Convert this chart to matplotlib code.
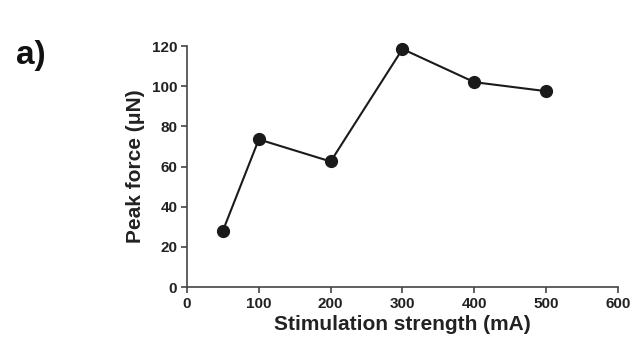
import matplotlib
matplotlib.use("Agg")
import matplotlib.pyplot as plt

strength = [50, 100, 200, 300, 400, 500]
force = [28, 73.5, 62.5, 118.5, 102, 97.5]
x_ticks = [0, 100, 200, 300, 400, 500, 600]
y_ticks = [0, 20, 40, 60, 80, 100, 120]

plt.rcParams['font.family'] = ['Liberation Sans', 'DejaVu Sans']

fig = plt.figure(figsize=(6.41, 3.58), dpi=100)
ax = fig.add_axes([0.2917, 0.1983, 0.6724, 0.6732])

ax.plot(strength, force, color='#1a1a1a', lw=1.5, marker='o', ms=8.5,
        markerfacecolor='#1a1a1a', markeredgecolor='#1a1a1a', clip_on=False)

ax.set_xlim(0, 600)
ax.set_ylim(0, 120)
ax.set_xticks(x_ticks)
ax.set_yticks(y_ticks)
ax.spines['top'].set_visible(False)
ax.spines['right'].set_visible(False)
for s in ['left', 'bottom']:
    ax.spines[s].set_color('#444444')
    ax.spines[s].set_linewidth(1.2)
ax.tick_params(direction='out', length=4, width=1.2, color='#444444',
               labelsize=11, pad=3)
for lab in ax.get_xticklabels() + ax.get_yticklabels():
    lab.set_fontweight('bold')
    lab.set_color('#222222')

ax.set_xlabel('Stimulation strength (mA)', fontsize=15, fontweight='bold',
              color='#222222', labelpad=3)
ax.set_ylabel('Peak force (μN)', fontsize=15, fontweight='bold',
              color='#222222', labelpad=5)

fig.text(0.025, 0.82, 'a)', fontsize=24, fontweight='bold', color='#111111')

fig.savefig('out.png', dpi=100)
